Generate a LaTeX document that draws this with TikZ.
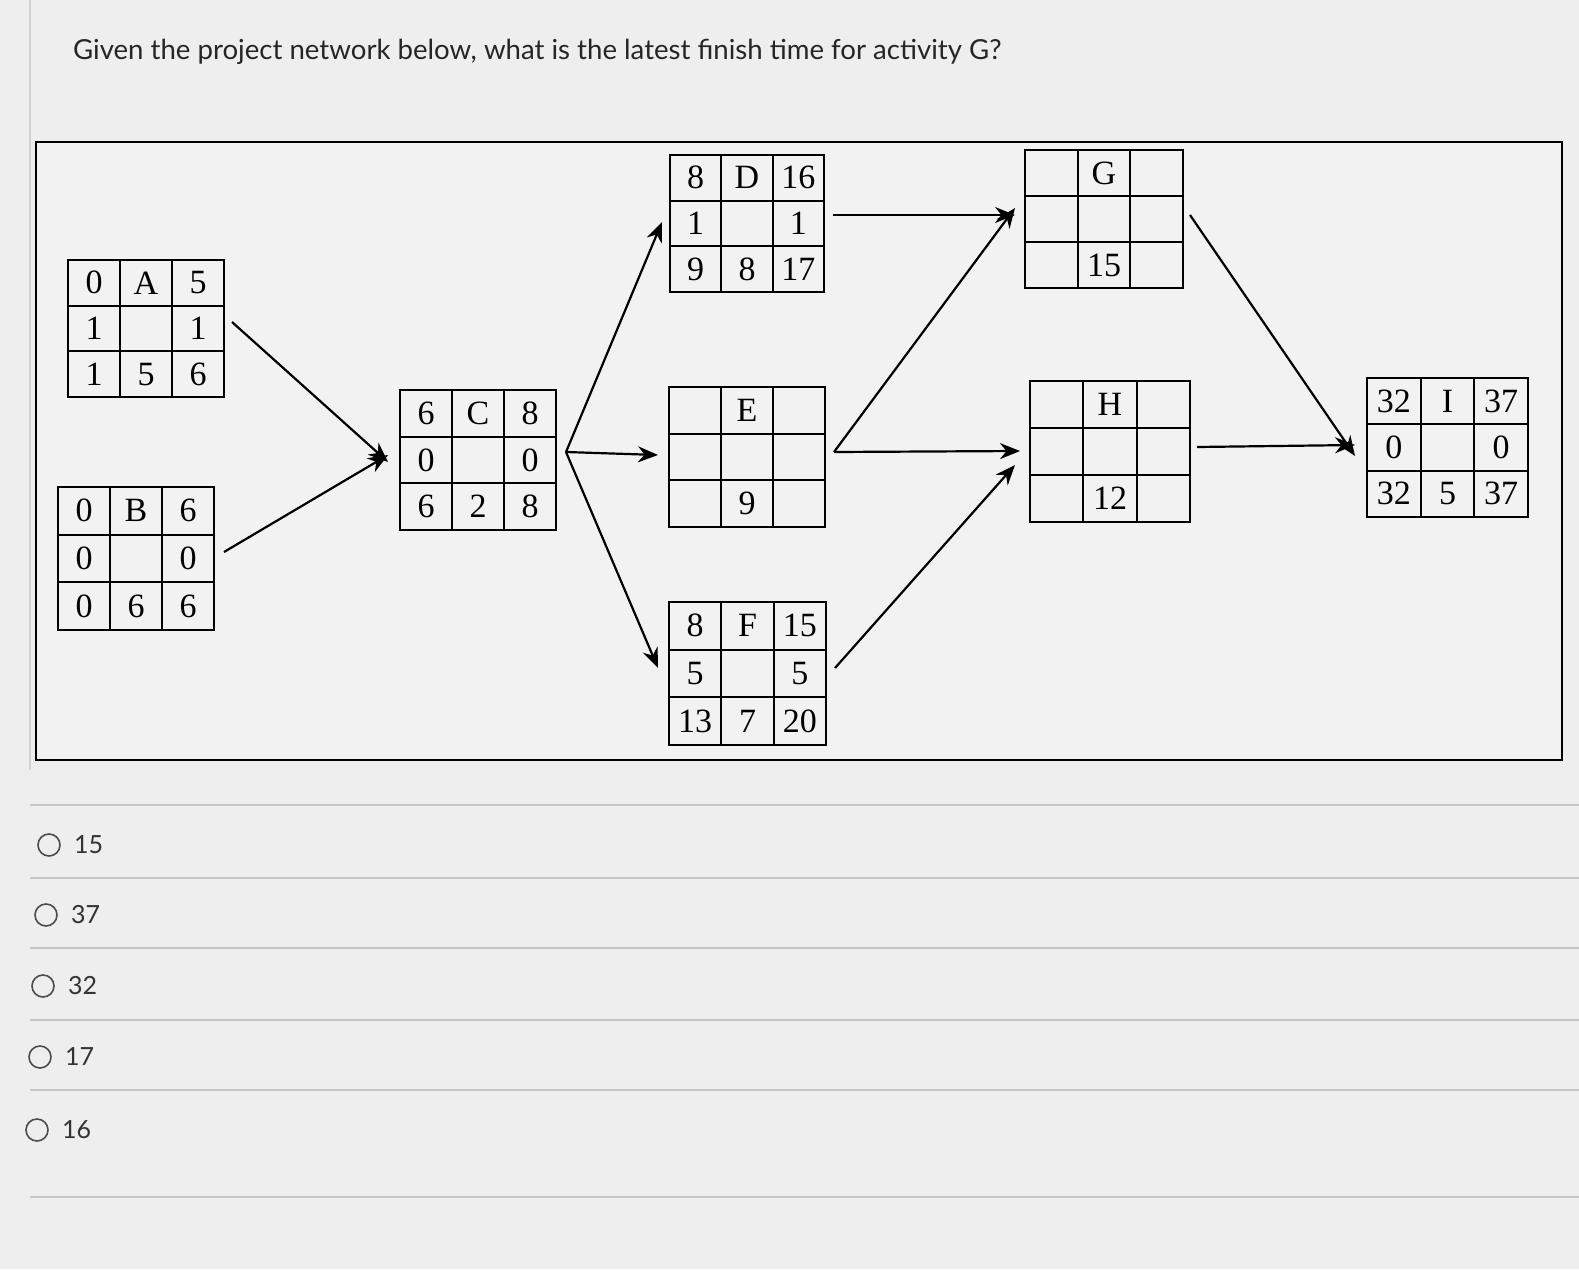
\documentclass[tikz,border=0pt]{standalone}
\usepackage{fontspec}
\setmainfont{Liberation Serif}
\newfontfamily\qfont{Lato}
\usetikzlibrary{calc,arrows.meta}
\tikzset{
  boxst/.style={draw,line width=1.4pt,inner sep=0pt,outer sep=0pt},
  gridln/.style={line width=1.1pt},
  cell/.style={font=\fontsize{17}{17}\selectfont,inner sep=0pt},
  conn/.style={line width=1.1pt,-{Stealth[length=10pt,width=8pt]}},
  sep/.style={draw=gray!45,line width=0.6pt},
  opt/.style={font=\qfont\fontsize{12.5}{12.5}\selectfont,anchor=west,text=black!80},
}
\newcommand\abox[6]{%
  \node[boxst,minimum width={(#4-#2)*0.5pt},minimum height={(#5-#3)*0.5pt}] (#1) at ({(#2+#4)/2},{(#3+#5)/2}) {};
  \draw[gridln] ($(#1.north west)!1/3!(#1.north east)$) -- ($(#1.south west)!1/3!(#1.south east)$);
  \draw[gridln] ($(#1.north west)!2/3!(#1.north east)$) -- ($(#1.south west)!2/3!(#1.south east)$);
  \draw[gridln] ($(#1.north west)!1/3!(#1.south west)$) -- ($(#1.north east)!1/3!(#1.south east)$);
  \draw[gridln] ($(#1.north west)!2/3!(#1.south west)$) -- ($(#1.north east)!2/3!(#1.south east)$);
  \foreach \t [count=\i from 0] in {#6} {
    \pgfmathsetmacro\cx{mod(\i,3)}
    \pgfmathsetmacro\cy{int(\i/3)}
    \node[cell] at ({#2+(\cx+0.5)*(#4-#2)/3},{#3+(\cy+0.5)*(#5-#3)/3}) {\t};
  }
}
\begin{document}
\begin{tikzpicture}[x=0.5pt,y=-0.5pt]
\fill[gray!13] (0,0) rectangle (1579,1269);
\useasboundingbox (0,0) rectangle (1579,1269);
\draw[gray!35,line width=0.8pt] (30,0) -- (30,770);
\node[anchor=west,font=\qfont\fontsize{13.8}{13.8}\selectfont,text=black!85] (q) at (66,52) {Given the project network below, what is the latest finish time for activity G?};
\draw[line width=1.3pt,fill=gray!10] (36,142) rectangle (1562,760);
\abox{A}{68}{260}{224}{397}{0,A,5,1,,1,1,5,6}
\abox{B}{58}{487}{214}{630}{0,B,6,0,,0,0,6,6}
\abox{C}{400}{390}{556}{530}{6,C,8,0,,0,6,2,8}
\abox{D}{670}{155}{824}{292}{8,D,16,1,,1,9,8,17}
\abox{E}{669}{387}{825}{527}{,E,,,,,,9,}
\abox{F}{669}{602}{826}{745}{8,F,15,5,,5,13,7,20}
\abox{G}{1025}{150}{1183}{288}{,G,,,,,,15,}
\abox{H}{1030}{381}{1190}{522}{,H,,,,,,12,}
\abox{I}{1367}{378}{1528}{517}{32,I,37,0,,0,32,5,37}
\coordinate (ca) at (232,322); \coordinate (ta1) at (388,462);
\coordinate (cb) at (224,552); \coordinate (ta2) at (388,455);
\draw[conn] (ca) -- (ta1);
\draw[conn] (cb) -- (ta2);
\coordinate (co) at (566,452);
\coordinate (td) at (662,222); \coordinate (te) at (658,455); \coordinate (tf) at (658,668);
\draw[conn] (co) -- (td);
\draw[conn] (co) -- (te);
\draw[conn] (co) -- (tf);
\coordinate (od) at (833,215); \coordinate (tg1) at (1015,215);
\coordinate (oe) at (834,452); \coordinate (tg2) at (1015,208);
\coordinate (th1) at (1020,451);
\coordinate (of) at (835,668); \coordinate (th2) at (1015,465);
\draw[conn] (od) -- (tg1);
\draw[conn] (oe) -- (tg2);
\draw[conn] (oe) -- (th1);
\draw[conn] (of) -- (th2);
\coordinate (og) at (1190,215); \coordinate (ti1) at (1355,456);
\coordinate (oh) at (1197,447); \coordinate (ti2) at (1355,445);
\draw[conn] (og) -- (ti1);
\draw[conn] (oh) -- (ti2);
\foreach \yy in {805,878,948,1020,1090,1197} \draw[sep] (30,\yy) -- (1579,\yy);
\foreach \yy/\lab [count=\k] in {845/15,915/37,986/32,1057/17,1130/16} {
  \node[circle,draw=black!70,line width=0.8pt,minimum size=11pt,inner sep=0pt] (o\k) at ({52-3*\k},\yy) {};
  \node[opt] (l\k) at ({70-3*\k},\yy) {\lab};
}
\end{tikzpicture}
\end{document}
